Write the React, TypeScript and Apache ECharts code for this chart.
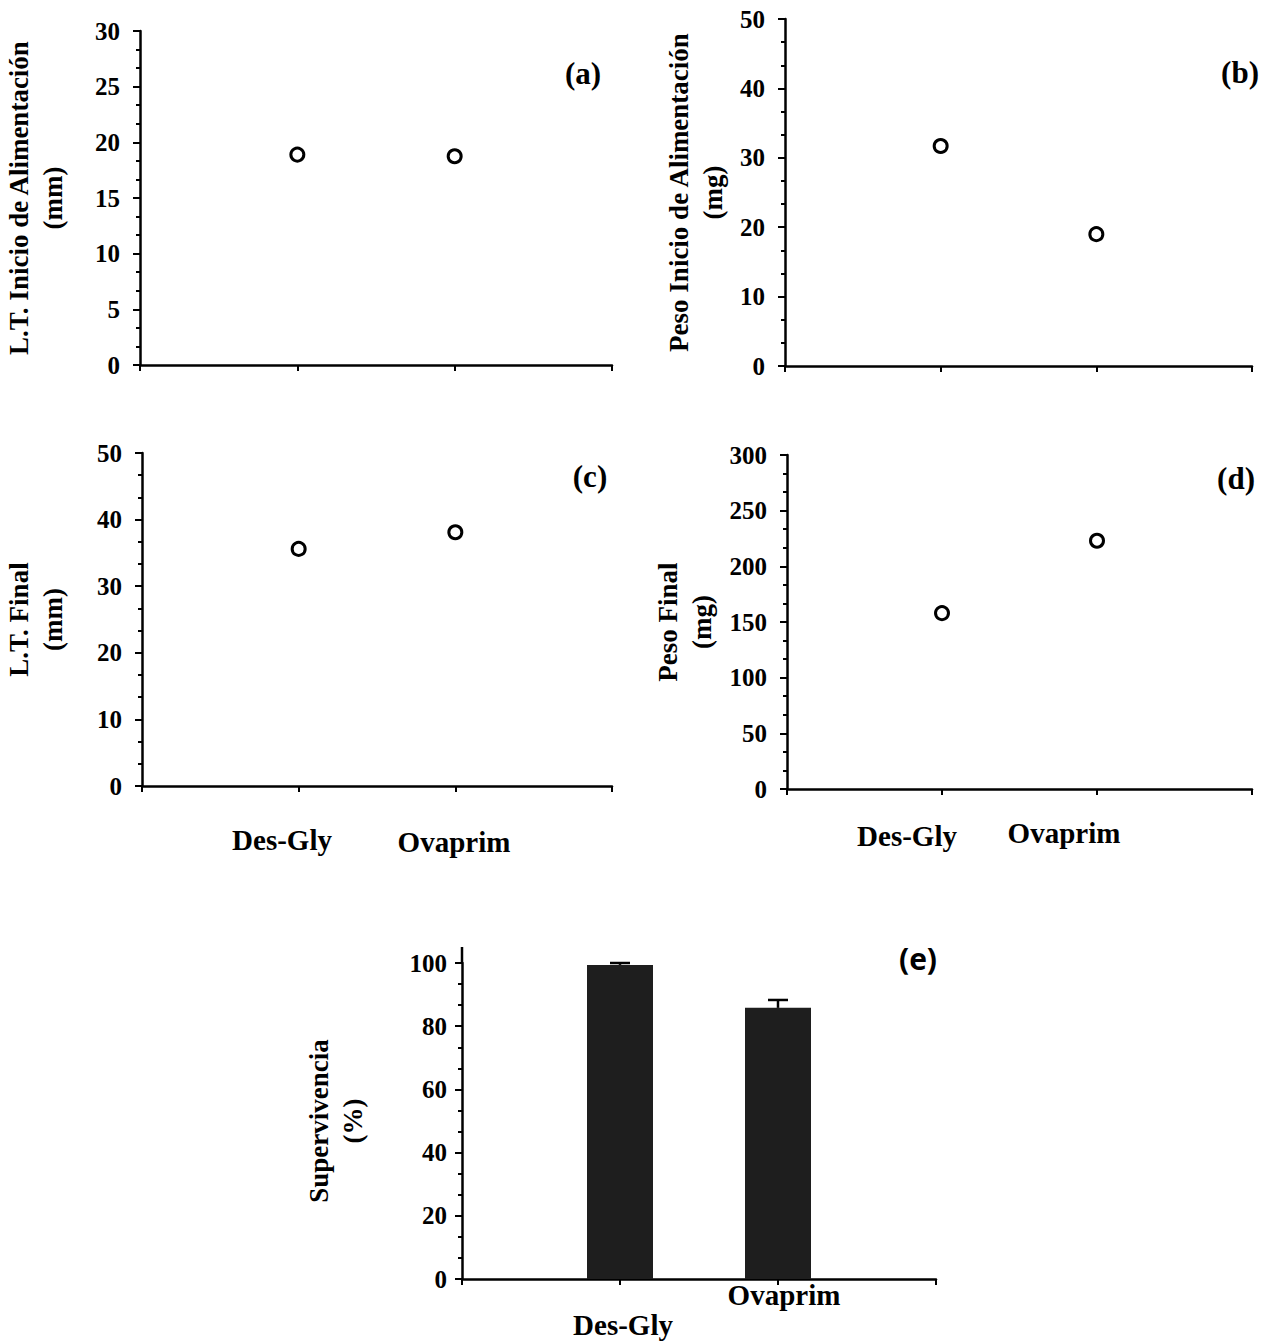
import React, { useEffect, useRef } from "react";
import * as echarts from "echarts";

const categories = ["Des-Gly", "Ovaprim"];
const catPositions = [1, 2];
const ltInicio = [18.9, 18.75];
const pesoInicio = [31.7, 19.0];
const ltFinal = [35.6, 38.1];
const pesoFinal = [158, 223];
const supervivencia = [99.4, 85.8];
const supervivenciaErr = [0.6, 2.5];
const panelLetters = ["(a)", "(b)", "(c)", "(d)", "(e)"];
const yMax = [30, 50, 50, 300, 100];
const yInterval = [5, 10, 10, 50, 20];
const yNames = [
  "L.T. Inicio de Alimentación\n(mm)",
  "Peso Inicio de Alimentación\n(mg)",
  "L.T. Final\n(mm)",
  "Peso Final\n(mg)",
  "Supervivencia\n(%)",
];

const serif = '"Liberation Serif", "Times New Roman", serif';

const grids = [
  { left: 140, top: 31, width: 472, height: 334 },
  { left: 785, top: 19, width: 467, height: 347 },
  { left: 142, top: 453, width: 470, height: 333 },
  { left: 787, top: 455, width: 465, height: 334 },
  { left: 462, top: 963, width: 474, height: 316 },
];
const nameGaps = [70, 55, 72, 68, 92];
const labelMargins = [20, 20, 20, 20, 15];

function pts(vals: number[]) {
  return vals.map((v, i) => [catPositions[i], v]);
}

export default function App() {
  const ref = useRef<HTMLDivElement>(null);
  useEffect(() => {
    if (!ref.current) return;
    const chart = echarts.init(ref.current, undefined, { renderer: "svg" });

    const xAxis = grids.map((_, i) => ({
      type: "value",
      gridIndex: i,
      min: 0,
      max: 3,
      interval: 1,
      axisLine: { show: true, onZero: false, lineStyle: { color: "#000", width: 2.5 } },
      axisTick: { show: true, length: 6, lineStyle: { color: "#000", width: 2 } },
      axisLabel: { show: false },
      splitLine: { show: false },
    }));

    const yAxis = grids.map((_, i) => ({
      type: "value",
      gridIndex: i,
      min: 0,
      max: yMax[i],
      interval: yInterval[i],
      name: yNames[i],
      nameLocation: "middle",
      nameRotate: 90,
      nameGap: nameGaps[i],
      nameTextStyle: {
        fontFamily: serif,
        fontWeight: "bold",
        fontSize: 27,
        color: "#000",
        lineHeight: 34,
        align: "center",
      },
      axisLine: { show: true, lineStyle: { color: "#000", width: 2.5 } },
      axisTick: { show: true, length: 7, lineStyle: { color: "#000", width: 2 } },
      minorTick: { show: true, splitNumber: 3, length: 4, lineStyle: { color: "#000", width: 2 } },
      axisLabel: {
        fontFamily: serif,
        fontWeight: "bold",
        fontSize: 25,
        color: "#000",
        margin: labelMargins[i],
      },
      splitLine: { show: false },
      minorSplitLine: { show: false },
    }));

    const scatterStyle = {
      symbol: "circle",
      symbolSize: 13,
      itemStyle: { color: "#fff", borderColor: "#000", borderWidth: 3, opacity: 1 },
    };

    const scatterSets = [ltInicio, pesoInicio, ltFinal, pesoFinal];
    const series: any[] = scatterSets.map((vals, i) => ({
      type: "scatter",
      xAxisIndex: i,
      yAxisIndex: i,
      data: pts(vals),
      ...scatterStyle,
    }));

    series.push({
      type: "bar",
      xAxisIndex: 4,
      yAxisIndex: 4,
      data: pts(supervivencia),
      barWidth: 66,
      itemStyle: { color: "#1e1e1e" },
    });

    series.push({
      type: "custom",
      xAxisIndex: 4,
      yAxisIndex: 4,
      z: 5,
      data: supervivencia.map((v, i) => [catPositions[i], v, supervivenciaErr[i]]),
      encode: { x: 0, y: 1 },
      renderItem: (params: any, api: any) => {
        const x = api.value(0);
        const y = api.value(1);
        const e = api.value(2);
        const base = api.coord([x, y]);
        const top = api.coord([x, y + e]);
        return {
          type: "group",
          children: [
            {
              type: "line",
              shape: { x1: top[0], y1: base[1], x2: top[0], y2: top[1] },
              style: { stroke: "#000", lineWidth: 2.5 },
            },
            {
              type: "line",
              shape: { x1: top[0] - 10, y1: top[1], x2: top[0] + 10, y2: top[1] },
              style: { stroke: "#000", lineWidth: 2.5 },
            },
          ],
        };
      },
    });

    const letterPos = [
      [583, 73],
      [1240, 72],
      [590, 476],
      [1236, 478],
      [918, 958],
    ];
    const catLabelPos = [
      [
        [282, 840],
        [454, 842],
      ],
      [
        [907, 836],
        [1064, 833],
      ],
      [
        [623, 1325],
        [784, 1295],
      ],
    ];

    const graphic: any[] = [];
    panelLetters.forEach((t, i) => {
      graphic.push({
        type: "text",
        x: letterPos[i][0],
        y: letterPos[i][1],
        style: {
          text: t,
          fill: "#000",
          font: i === 4 ? 'bold 30px "Open Sans", sans-serif' : `bold 31px ${serif}`,
          textAlign: "center",
          textVerticalAlign: "middle",
          align: "center",
          verticalAlign: "middle",
        },
      });
    });
    catLabelPos.forEach((pair) => {
      pair.forEach((p, j) => {
        graphic.push({
          type: "text",
          x: p[0],
          y: p[1],
          style: {
            text: categories[j],
            fill: "#000",
            font: `bold 29px ${serif}`,
            textAlign: "center",
            textVerticalAlign: "middle",
            align: "center",
            verticalAlign: "middle",
          },
        });
      });
    });
    // extension of the (e) y-axis line above its top tick
    graphic.push({
      type: "line",
      shape: { x1: 462, y1: 963, x2: 462, y2: 947 },
      style: { stroke: "#000", lineWidth: 2.5 },
    });

    chart.setOption({
      animation: false,
      backgroundColor: "#fff",
      grid: grids.map((g) => ({ ...g, outerBoundsMode: "none", containLabel: false })),
      xAxis,
      yAxis,
      series,
      graphic,
    } as any);

    return () => chart.dispose();
  }, []);

  return (
    <div
      ref={ref}
      style={{ position: "fixed", left: 0, top: 0, width: 1275, height: 1341, background: "#fff" }}
    />
  );
}
